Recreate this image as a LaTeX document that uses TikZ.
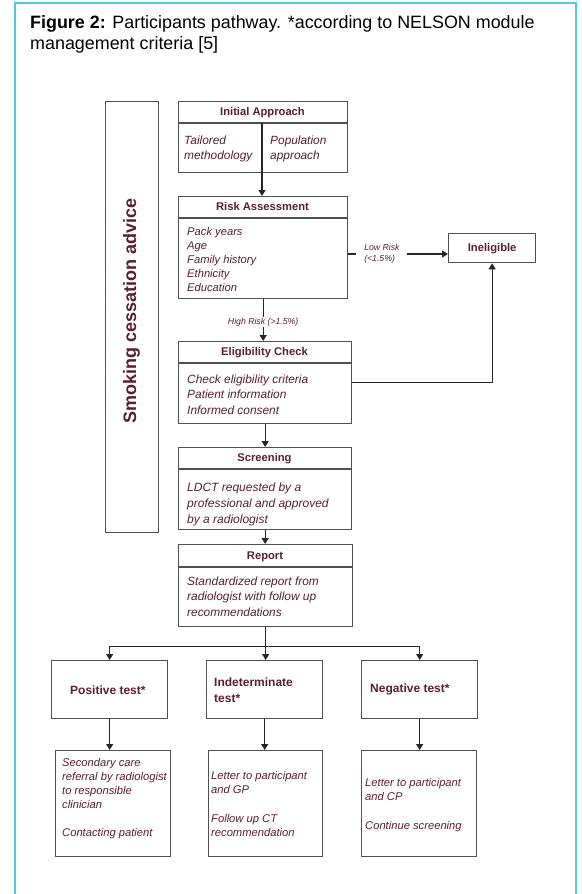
\documentclass[tikz,border=0pt]{standalone}
\usepackage{fontspec}
\setmainfont{Liberation Sans}
\usetikzlibrary{arrows.meta,calc}
\definecolor{txt}{HTML}{5A1F2E}
\definecolor{edgec}{HTML}{505050}
\definecolor{framec}{HTML}{55C8D7}
\tikzset{
  box/.style={draw=edgec, line width=1.3pt, inner sep=0pt, anchor=north west},
  sep/.style={draw=edgec, line width=1.3pt},
  head/.style={font=\fontsize{11.2}{13}\selectfont\bfseries, text=txt, inner sep=0pt, text height=8pt, text depth=2pt},
  headb/.style={font=\fontsize{12}{16}\selectfont\bfseries, text=txt, inner sep=0pt, align=left},
  body/.style={font=\fontsize{11.2}{14}\selectfont\itshape, text=txt, inner sep=0pt, align=left, anchor=north west},
  lbl/.style={font=\fontsize{8.7}{11}\selectfont\itshape, text=txt},
  conn/.style={draw=black!85, line width=1.3pt},
  arr/.style={conn, -{Triangle[width=7pt,length=6pt]}},
}
\begin{document}
\begin{tikzpicture}[x=1pt,y=-1pt]
\useasboundingbox (0,0) rectangle (581,894);
% outer frame
\draw[framec, line width=1.6pt] (15,894) -- (15,3) -- (576,3) -- (576,894);
% title
\node[anchor=north west, inner sep=0pt, align=left, font=\fontsize{17.9}{20.5}\selectfont] (title) at (30,15.5)
  {\textbf{Figure 2:} Participants pathway. *according to NELSON module\\management criteria [5]};

% smoking cessation box
\node[box, minimum width=53pt, minimum height=431pt] (sm) at (105,101) {};
\node[rotate=90, font=\fontsize{18}{20}\selectfont\bfseries, text=txt, inner sep=0pt] (smt) at (131.5,311) {Smoking cessation advice};

% Initial Approach
\node[box, minimum width=169pt, minimum height=71pt] (ia) at (178,101) {};
\draw[sep] ($(ia.north west)+(0,22)$) -- ($(ia.north east)+(0,22)$);
\node[head] (iah) at (262.5,112) {Initial Approach};
\node[body, font=\fontsize{11.9}{15}\selectfont\itshape] (iab1) at (184,135.5) {Tailored\\methodology};
\node[body, font=\fontsize{11.9}{15}\selectfont\itshape] (iab2) at (270,135.5) {Population\\approach};
\coordinate (iasplit) at ($(ia.north west)+(84,22)$);

% Risk Assessment
\node[box, minimum width=169pt, minimum height=102pt] (ra) at (178,196) {};
\draw[sep] ($(ra.north west)+(0,22)$) -- ($(ra.north east)+(0,22)$);
\node[head] (rah) at (262.5,207) {Risk Assessment};
\node[body, font=\fontsize{11.2}{13.8}\selectfont\itshape] (rab) at (187,227.5) {Pack years\\Age\\Family history\\Ethnicity\\Education};

% Ineligible
\node[box, minimum width=87pt, minimum height=29pt, font=\fontsize{11.2}{13}\selectfont\bfseries, text=txt] (ine) at (448,233) {Ineligible};

% Eligibility Check
\node[box, minimum width=173pt, minimum height=82pt] (el) at (178,341) {};
\draw[sep] ($(el.north west)+(0,22)$) -- ($(el.north east)+(0,22)$);
\node[head] (elh) at (264.5,352) {Eligibility Check};
\node[body, font=\fontsize{11.9}{15.5}\selectfont\itshape] (elb) at (187,374.3) {Check eligibility criteria\\Patient information\\Informed consent};

% Screening
\node[box, minimum width=173pt, minimum height=82pt] (sc) at (178,447) {};
\draw[sep] ($(sc.north west)+(0,22)$) -- ($(sc.north east)+(0,22)$);
\node[head] (sch) at (264.5,458) {Screening};
\node[body, font=\fontsize{12}{16}\selectfont\itshape] (scb) at (187,482.3) {LDCT requested by a\\professional and approved\\by a radiologist};

% Report
\node[box, minimum width=174pt, minimum height=82pt] (rp) at (178,544) {};
\draw[sep] ($(rp.north west)+(0,23)$) -- ($(rp.north east)+(0,23)$);
\node[head] (rph) at (265,556) {Report};
\node[body, font=\fontsize{11.9}{15.5}\selectfont\itshape] (rpb) at (187,576.3) {Standardized report from\\radiologist with follow up\\recommendations};

% result boxes
\node[box, minimum width=116pt, minimum height=58pt] (pos) at (51,660) {};
\node[headb, anchor=west] (posh) at (70,690) {Positive test*};
\node[box, minimum width=116pt, minimum height=58pt] (ind) at (206,660) {};
\node[headb, anchor=north west] (indh) at (214,677.5) {Indeterminate\\test*};
\node[box, minimum width=116pt, minimum height=58pt] (neg) at (361,660) {};
\node[headb, anchor=west] (negh) at (370,689) {Negative test*};

% action boxes
\node[box, minimum width=115pt, minimum height=106pt] (posb) at (55,750) {};
\node[body] (posbt) at (62,758.5) {Secondary care\\referral by radiologist\\to responsible\\clinician\\[14pt]Contacting patient};
\node[box, minimum width=114pt, minimum height=106pt] (indb) at (208,750) {};
\node[body] (indbt) at (211,771.5) {Letter to participant\\and GP\\[15pt]Follow up CT\\recommendation};
\node[box, minimum width=115pt, minimum height=106pt] (negb) at (361,750) {};
\node[body] (negbt) at (365,778.5) {Letter to participant\\and CP\\[15pt]Continue screening};

% connectors
\draw[arr] (iasplit) -- (iasplit |- ra.north);
\draw[arr] (ra.south) -- node[lbl, fill=white, inner sep=1pt, pos=0.55] (hr) {High Risk (>1.5\%)} (ra.south |- el.north);
\coordinate (lowr) at (0,254);
\draw[arr] (ra.east |- lowr) -- node[lbl, fill=white, inner sep=0pt, align=left, minimum width=51pt, minimum height=24pt, pos=0.337] (lr) {Low Risk\\(<1.5\%)} (ine.west |- lowr);
\draw[arr] (el.east) -| (ine.south);
\draw[arr] (el.south) -- (el.south |- sc.north);
\draw[arr] (sc.south) -- (sc.south |- rp.north);
\coordinate (br) at ($(rp.south)+(0,19)$);
\draw[conn] (rp.south) -- (br);
\draw[arr] (br) -| (pos.north);
\draw[arr] (br) -- (br |- ind.north);
\draw[arr] (br) -| (neg.north);
\draw[arr] (pos.south) -- (pos.south |- posb.north);
\draw[arr] (ind.south) -- (ind.south |- indb.north);
\draw[arr] (neg.south) -- (neg.south |- negb.north);
\end{tikzpicture}
\end{document}
